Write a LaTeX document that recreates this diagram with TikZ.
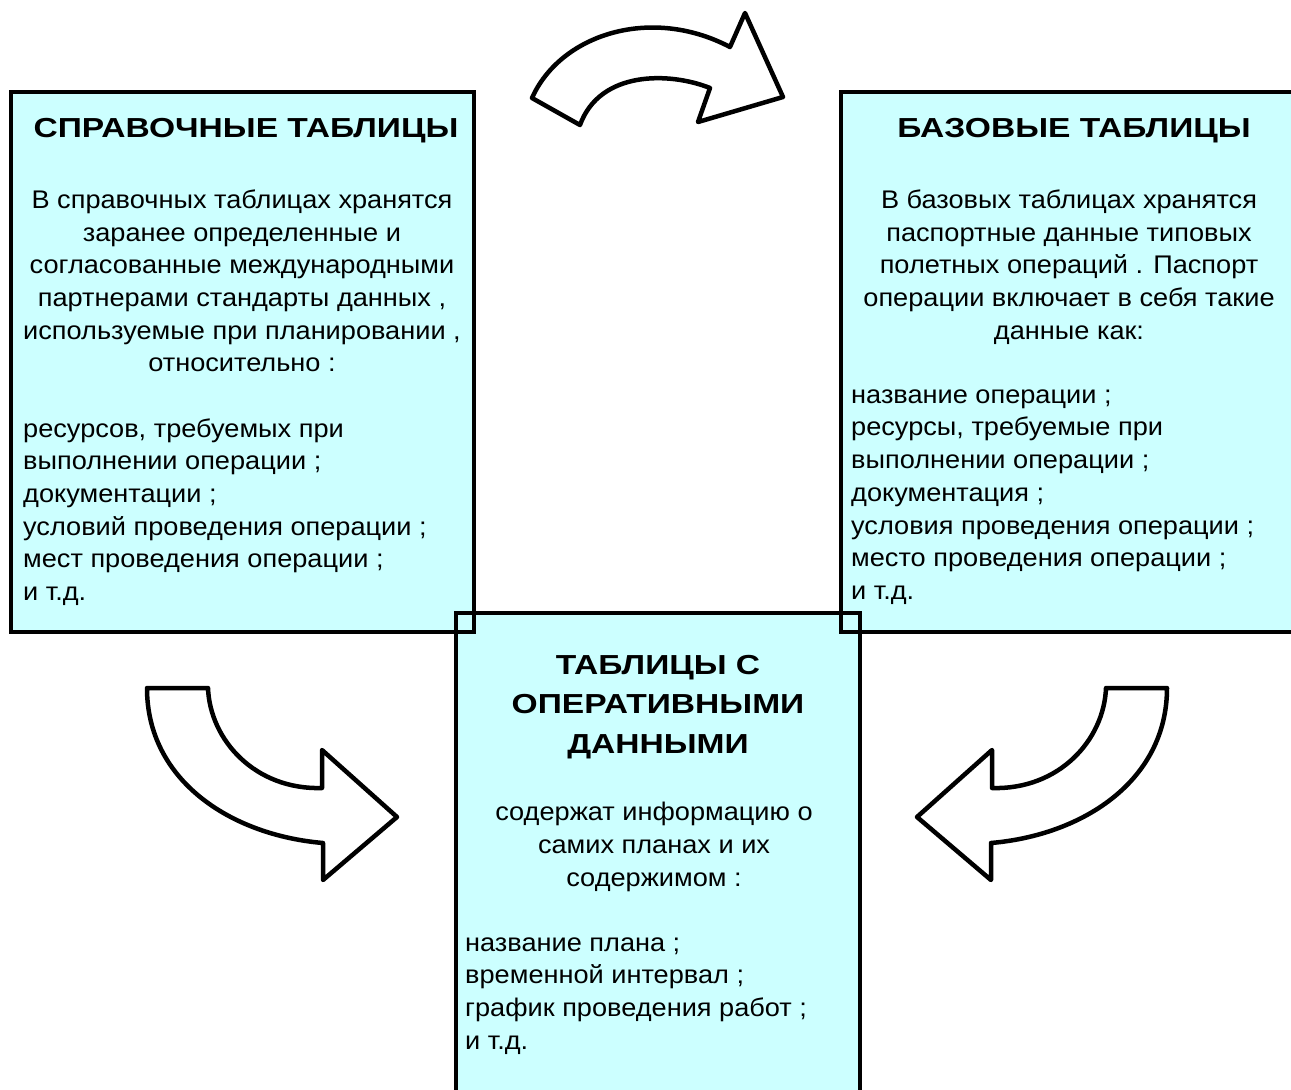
\documentclass[tikz,border=0pt]{standalone}
\usepackage{fontspec}
\setmainfont{Liberation Sans}
\newfontfamily\bodyfont[FakeStretch=1.065]{Liberation Sans}
\newfontfamily\titlefont[FakeStretch=1.22]{Liberation Sans}
\definecolor{boxfill}{HTML}{CCFFFF}
\tikzset{
  boxshape/.style={rectangle, fill=boxfill, inner sep=0pt, draw=none},
  border/.style={draw=black, line width=4.5pt},
  blockarrow/.style={draw=black, fill=white, line width=4.5pt, line join=round},
  titletext/.style={inner sep=0pt, align=center, font=\titlefont\fontsize{27.5}{33}\selectfont\bfseries},
  bodytext/.style={inner sep=0pt, align=center, font=\bodyfont\fontsize{25.5}{32.7}\selectfont},
  listtext/.style={inner sep=0pt, align=left, anchor=west, font=\bodyfont\fontsize{25.5}{32.7}\selectfont}
}
\begin{document}
\begin{tikzpicture}[x=1pt,y=-1pt]
\useasboundingbox (0,0) rectangle (1291,1090);
\clip (0,0) rectangle (1291,1090);
\fill[white] (0,0) rectangle (1291,1090);

% box fills
\node[boxshape, minimum width=463pt, minimum height=540pt] (ref) at (242.5,362) {};
\node[boxshape, minimum width=459pt, minimum height=540pt] (base) at (1070.5,362) {};
\node[boxshape, minimum width=404pt, minimum height=487pt] (oper) at (658,856.5) {};

% box borders
\draw[border] (ref.north west) rectangle (ref.south east);
\draw[border] (base.north west) rectangle (base.south east);
\draw[border] (oper.north west) rectangle (oper.south east);

% left box texts
\node[titletext] (reftitle) at (246,131) {СПРАВОЧНЫЕ ТАБЛИЦЫ};
\node[bodytext] (refbody) at (242,281) {В справочных таблицах хранятся\\заранее определенные и\\согласованные международными\\партнерами стандарты данных ,\\используемые при планировании ,\\относительно :};
\node[listtext] (reflist) at (23,512) {ресурсов, требуемых при\\выполнении операции ;\\документации ;\\условий проведения операции ;\\мест проведения операции ;\\и т.д.};

% right box texts
\node[titletext] (basetitle) at (1074,131) {БАЗОВЫЕ ТАБЛИЦЫ};
\node[bodytext] (basebody) at (1069,267) {В базовых таблицах хранятся\\паспортные данные типовых\\полетных операций . Паспорт\\операции включает в себя такие\\данные как:};
\node[listtext] (baselist) at (851,497) {название операции ;\\ресурсы, требуемые при\\выполнении операции ;\\документация ;\\условия проведения операции ;\\место проведения операции ;\\и т.д.};

% bottom box texts
\node[titletext, font=\titlefont\fontsize{27.5}{39.5}\selectfont\bfseries] (opertitle) at (658,707) {ТАБЛИЦЫ С\\ОПЕРАТИВНЫМИ\\ДАННЫМИ};
\node[bodytext] (operbody) at (654,847) {содержат информацию о\\самих планах и их\\содержимом :};
\node[listtext] (operlist) at (465,996) {название плана ;\\временной интервал ;\\график проведения работ ;\\и т.д.};

% top curved arrow (reference -> base)
\draw[blockarrow] (532,98) .. controls (560,35) and (650,5) .. (730,47)
  -- (745,13) -- (783,97) -- (698,122) -- (710,88)
  .. controls (670,72) and (600,70) .. (580,125) -- cycle;

% lower left curved arrow (reference -> operative)
\draw[blockarrow] (147,688) .. controls (147,780) and (230,835) .. (323,843)
  -- (323,880) -- (397,817) -- (322,750) -- (322,788)
  .. controls (255,790) and (210,740) .. (208,688) -- cycle;

% lower right curved arrow (base -> operative)
\draw[blockarrow] (1167,688) .. controls (1167,780) and (1084,835) .. (991,843)
  -- (991,880) -- (917,817) -- (992,750) -- (992,788)
  .. controls (1059,790) and (1104,740) .. (1106,688) -- cycle;
\end{tikzpicture}
\end{document}
